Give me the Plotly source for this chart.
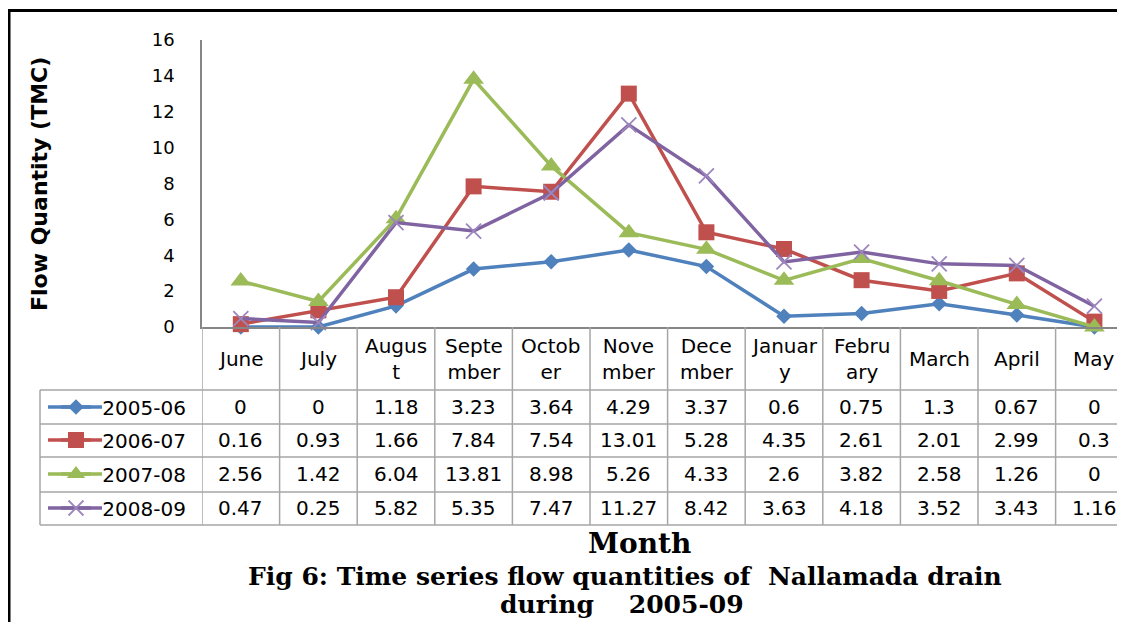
import plotly.graph_objects as go

# ---------------- data ----------------
months = ["June", "July", "August", "September", "October", "November",
          "December", "January", "February", "March", "April", "May"]
header_labels = ["June", "July", "Augus<br>t", "Septe<br>mber", "Octob<br>er",
                 "Nove<br>mber", "Dece<br>mber", "Januar<br>y", "Febru<br>ary",
                 "March", "April", "May"]
series_names = ["2005-06", "2006-07", "2007-08", "2008-09"]
flow_2005_06 = [0, 0, 1.18, 3.23, 3.64, 4.29, 3.37, 0.6, 0.75, 1.3, 0.67, 0]
flow_2006_07 = [0.16, 0.93, 1.66, 7.84, 7.54, 13.01, 5.28, 4.35, 2.61, 2.01, 2.99, 0.3]
flow_2007_08 = [2.56, 1.42, 6.04, 13.81, 8.98, 5.26, 4.33, 2.6, 3.82, 2.58, 1.26, 0]
flow_2008_09 = [0.47, 0.25, 5.82, 5.35, 7.47, 11.27, 8.42, 3.63, 4.18, 3.52, 3.43, 1.16]
y_ticks = [0, 2, 4, 6, 8, 10, 12, 14, 16]

series_values = [flow_2005_06, flow_2006_07, flow_2007_08, flow_2008_09]

# ---------------- styles ----------------
W, H = 1125, 622
OX, OY = 8, 8          # page body offset
colors = ["#4F81BD", "#C0504D", "#9BBB59", "#8064A2"]
symbols = ["diamond", "square", "triangle-up", "x-thin"]
msizes = [12, 16, 18, 15]
GRID = "#A6A6A6"
SANS = "DejaVu Sans"
SERIF = "DejaVu Serif"


def fx(x):
    return (x - OX) / W


def fy(y):
    return (H - (y - OY)) / H


plot_left, plot_top, plot_bottom = 202, 40, 327
row_lines = [390, 424, 457, 492, 525]
row_centers = [407, 440, 474, 508]
header_center = 359
legend_col_left = 40

fig = go.Figure()
legend_ids = ["legend", "legend2", "legend3", "legend4"]
for i, (name, vals) in enumerate(zip(series_names, series_values)):
    mk = dict(symbol=symbols[i], size=msizes[i], color=colors[i])
    if symbols[i] == "x-thin":
        mk["line"] = dict(color="#9C86BC", width=1.8)
    else:
        mk["line"] = dict(width=0)
    fig.add_trace(go.Scatter(
        x=months, y=vals, name="\u00a0" + name, mode="lines+markers",
        line=dict(color=colors[i], width=3.5), marker=mk,
        cliponaxis=False, legend=legend_ids[i],
    ))

shapes = []
annotations = []

# frame
shapes.append(dict(type="line", xref="paper", yref="paper", x0=fx(9), x1=fx(9),
                   y0=fy(640), y1=fy(9), line=dict(color="black", width=3)))
shapes.append(dict(type="line", xref="paper", yref="paper", x0=fx(8), x1=1,
                   y0=fy(10.5), y1=fy(10.5), line=dict(color="black", width=3)))

# table grid: vertical lines at category boundaries
for i in range(len(months)):
    shapes.append(dict(type="line", xref="x", yref="paper", x0=i - 0.5, x1=i - 0.5,
                       y0=fy(plot_bottom), y1=fy(row_lines[-1]),
                       line=dict(color=GRID, width=1.5)))
# horizontal lines
for yl in row_lines:
    shapes.append(dict(type="line", xref="paper", yref="paper", x0=fx(legend_col_left), x1=1,
                       y0=fy(yl), y1=fy(yl), line=dict(color=GRID, width=1.5)))
# legend column left border
shapes.append(dict(type="line", xref="paper", yref="paper",
                   x0=fx(legend_col_left), x1=fx(legend_col_left),
                   y0=fy(row_lines[0]), y1=fy(row_lines[-1]),
                   line=dict(color=GRID, width=1.5)))

# legend key lines (extend the legend symbol line)
for i in range(len(series_names)):
    shapes.append(dict(type="line", xref="paper", yref="paper", x0=fx(48), x1=fx(102),
                       y0=fy(row_centers[i]), y1=fy(row_centers[i]), layer="below",
                       line=dict(color=colors[i], width=3.5)))

# header labels
for m, lab in zip(months, header_labels):
    annotations.append(dict(x=m, y=fy(header_center), xref="x", yref="paper", text=lab,
                            showarrow=False, xanchor="center", yanchor="middle",
                            font=dict(family=SANS, size=20, color="black")))
# cell values
for r, vals in enumerate(series_values):
    for m, v in zip(months, vals):
        annotations.append(dict(x=m, y=fy(row_centers[r]), xref="x", yref="paper",
                                text=f"{v:g}", showarrow=False, xanchor="center",
                                yanchor="middle",
                                font=dict(family=SANS, size=20, color="black")))

# axis title and captions
annotations.append(dict(x=fx(40), y=fy(184), xref="paper", yref="paper",
                        text="<b>Flow Quantity (TMC)</b>", textangle=-90, showarrow=False,
                        xanchor="center", yanchor="middle",
                        font=dict(family=SANS, size=22, color="black")))
annotations.append(dict(x=fx(639), y=fy(543), xref="paper", yref="paper",
                        text="<b>Month</b>", showarrow=False, xanchor="center", yanchor="middle",
                        font=dict(family=SERIF, size=28, color="black")))
annotations.append(dict(x=fx(625), y=fy(576), xref="paper", yref="paper",
                        text="<b>Fig 6: Time series flow quantities of\u00a0\u00a0Nallamada drain</b>",
                        showarrow=False, xanchor="center", yanchor="middle",
                        font=dict(family=SERIF, size=25, color="black")))
annotations.append(dict(x=fx(622), y=fy(604), xref="paper", yref="paper",
                        text="<b>during\u00a0\u00a0\u00a0\u00a02005-09</b>",
                        showarrow=False, xanchor="center", yanchor="middle",
                        font=dict(family=SERIF, size=25, color="black")))

cat_w = 77.6
x_span = (W - (plot_left - OX)) / cat_w

layout_legends = {}
for i, lid in enumerate(legend_ids):
    layout_legends[lid] = dict(
        x=fx(56), y=fy(row_centers[i]), xanchor="left", yanchor="middle",
        bgcolor="rgba(0,0,0,0)", borderwidth=0,
        font=dict(family=SANS, size=20, color="black"),
    )

fig.update_layout(
    width=W, height=H,
    margin=dict(l=0, r=0, t=0, b=0, autoexpand=False),
    paper_bgcolor="white", plot_bgcolor="rgba(0,0,0,0)",
    showlegend=True,
    xaxis=dict(domain=[fx(plot_left), 1], type="category", categoryorder="array",
               categoryarray=months, range=[-0.5, -0.5 + x_span], automargin=False,
               showticklabels=False, ticks="", showgrid=False, zeroline=False,
               showline=True, linecolor="#868686", linewidth=1.5, fixedrange=True),
    yaxis=dict(domain=[fy(plot_bottom), fy(plot_top)], range=[0, 16], automargin=False,
               tickvals=y_ticks, ticktext=[str(t) for t in y_ticks],
               ticks="", ticklabelstandoff=22, showgrid=False, zeroline=False,
               showline=True, linecolor="#868686", linewidth=1.5,
               tickfont=dict(family=SANS, size=18, color="black")),
    shapes=shapes,
    annotations=annotations,
    **layout_legends,
)

fig.write_html("out.html")
